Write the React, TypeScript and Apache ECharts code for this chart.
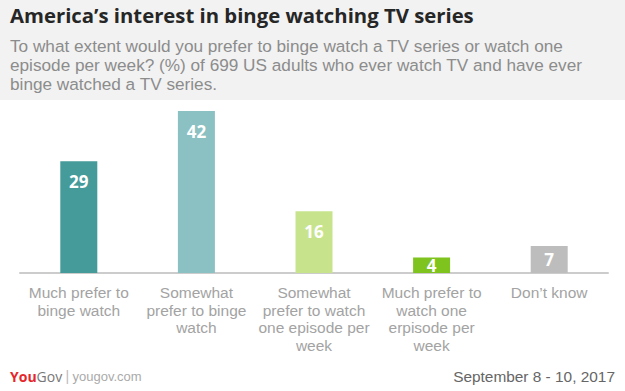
import React, { useEffect, useRef } from "react";
import * as echarts from "echarts";

const categories = [
  "Much prefer to\nbinge watch",
  "Somewhat\nprefer to binge\nwatch",
  "Somewhat\nprefer to watch\none episode per\nweek",
  "Much prefer to\nwatch one\nerpisode per\nweek",
  "Don\u2019t know",
];
const values = [29, 42, 16, 4, 7];
const barColors = ["#449b9a", "#8bc1c2", "#c7e48d", "#7fc31f", "#bdbdbd"];
const labelPositions = ["insideTop", "insideTop", "insideTop", "inside", "inside"];

const titleText = "America\u2019s interest in binge watching TV series";
const subtitleLines = [
  "To what extent would you prefer to binge watch a TV series or watch one",
  "episode per week? (%) of 699 US adults who ever watch TV and have ever",
  "binge watched a TV series.",
];
const dateText = "September 8 - 10, 2017";

const TITLE_FAMILY = "'Open Sans'";
const FAMILY = "'Liberation Sans'";

function fitSize(text: string, weight: string, family: string, target: number): number {
  const ctx = document.createElement("canvas").getContext("2d")!;
  ctx.font = `${weight} 100px ${family}`;
  const w = ctx.measureText(text).width;
  return (100 * target) / w;
}

export default function App() {
  const ref = useRef<HTMLDivElement>(null);
  useEffect(() => {
    const chart = echarts.init(ref.current!, null, { renderer: "svg" });
    const titleSize = Math.min(22, fitSize(titleText, "bold", TITLE_FAMILY, 464));
    const subSize = Math.min(17.2, fitSize(subtitleLines[0], "normal", FAMILY, 562));
    const axisSize = Math.min(15.5, fitSize("Much prefer to", "normal", FAMILY, 102));
    const dateSize = Math.min(17, fitSize(dateText, "normal", FAMILY, 162));
    chart.setOption({
      animation: false,
      backgroundColor: "#ffffff",
      grid: { left: 20, right: 17, top: 111, bottom: 118, containLabel: false },
      xAxis: {
        type: "category",
        data: categories,
        axisLine: { show: true, lineStyle: { color: "#cccccc", width: 2 } },
        axisTick: { show: false },
        axisLabel: {
          color: "#a3a3a3",
          fontSize: axisSize,
          lineHeight: 17.5,
          fontFamily: FAMILY,
          margin: 11,
          interval: 0,
        },
      },
      yAxis: {
        type: "value",
        min: 0,
        max: 42,
        show: false,
        splitLine: { show: false },
      },
      series: [
        {
          type: "bar",
          barWidth: 37,
          data: values.map((v, i) => ({
            value: v,
            itemStyle: { color: barColors[i] },
            label: { position: labelPositions[i] },
          })),
          label: {
            show: true,
            color: "#ffffff",
            fontSize: 17,
            fontWeight: "bold",
            fontFamily: TITLE_FAMILY,
            distance: 12,
          },
        },
      ],
      graphic: [
        { type: "rect", left: 0, top: 0, shape: { width: 625, height: 100 }, style: { fill: "#f2f2f2" }, z: -10 },
        {
          type: "text",
          left: 10,
          top: 5,
          style: { text: titleText, fontSize: titleSize, fontWeight: "bold", fill: "#262626", fontFamily: TITLE_FAMILY },
        },
        ...subtitleLines.map((line, i) => ({
          type: "text",
          left: 10,
          top: 36 + i * 19.4,
          style: {
            text: line,
            fontSize: subSize,
            lineHeight: 19,
            fill: "#8c8c8c",
            fontFamily: FAMILY,
          },
        })),
        {
          type: "text",
          left: 10,
          top: 369,
          style: {
            rich: {
              you: { fill: "#e5262b", fontSize: 14, fontWeight: "bold", fontFamily: TITLE_FAMILY },
              gov: { fill: "#777777", fontSize: 14, fontFamily: TITLE_FAMILY },
              sep: { fill: "#bbbbbb", fontSize: 14, fontFamily: FAMILY },
              url: { fill: "#aaaaaa", fontSize: 13, fontFamily: FAMILY },
            },
            text: "{you|You}{gov|Gov} {sep||} {url|yougov.com}",
          },
        },
        {
          type: "text",
          right: 10,
          top: 369,
          style: { text: dateText, fontSize: dateSize, fill: "#666666", fontFamily: FAMILY },
        },
      ],
    });
    return () => chart.dispose();
  }, []);
  return <div ref={ref} style={{ position: "fixed", left: 0, top: 0, width: 625, height: 391 }} />;
}
